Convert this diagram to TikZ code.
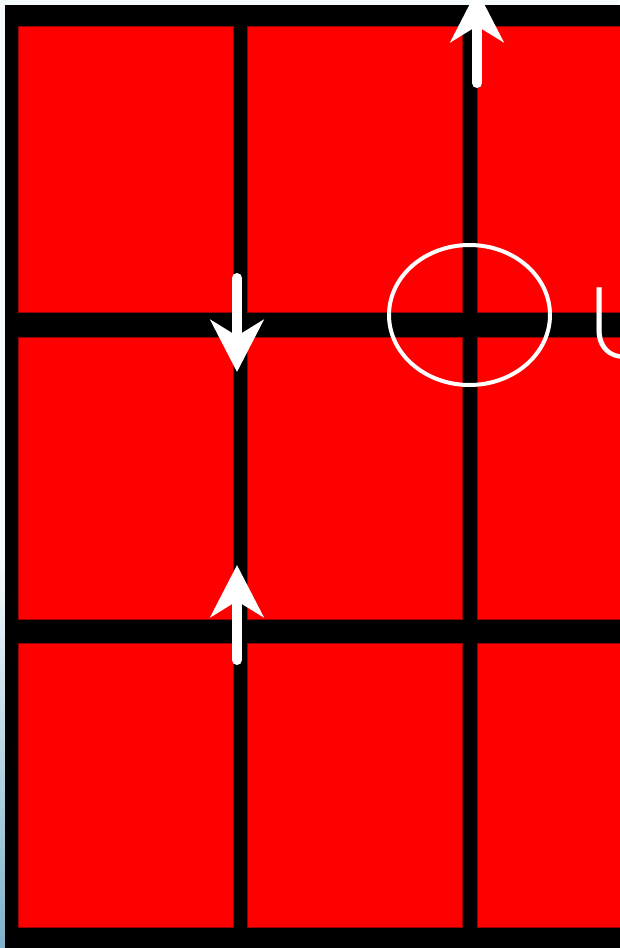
\documentclass[tikz,border=0pt]{standalone}
\usepackage{fontspec}
\newfontfamily\labelfont{Lato Light}
\usetikzlibrary{arrows.meta, shapes.geometric}
\definecolor{pagebg}{HTML}{F4F9FC}
\definecolor{edgeblue}{HTML}{7FB3CB}
\definecolor{cellred}{HTML}{FF0000}

\begin{document}
\begin{tikzpicture}[
    x=1pt, y=-1pt,
    cell/.style={fill=cellred, draw=cellred!60!black, line width=0.6pt},
    flow/.style={draw=white, line width=10pt, line cap=round, -{Stealth[length=52pt, width=53pt, inset=16pt]}},
    ring/.style={draw=white, line width=4pt, ellipse, minimum width=161pt, minimum height=140pt, inner sep=0pt}
]
\useasboundingbox (0,0) rectangle (619,948);
\fill[pagebg] (0,0) rectangle (619,948);
\shade[top color=pagebg, bottom color=edgeblue] (0,560) rectangle (5,948);

% grid
\fill[black] (5,5) rectangle (625,948);
\foreach \ya/\yb in {26/312, 337/619, 643/927}
  \foreach \xa/\xb in {18/233, 247/462, 477/625}
    \draw[cell] (\xa,\ya) rectangle (\xb,\yb);

% arrows along the lines
\coordinate (topfrom) at (477,83);
\coordinate (topto) at (477,-10);
\coordinate (downfrom) at (237,278);
\coordinate (downto) at (237,372);
\coordinate (upfrom) at (237,660);
\coordinate (upto) at (237,565);
\draw[flow] (topfrom) -- (topto);
\draw[flow] (downfrom) -- (downto);
\draw[flow] (upfrom) -- (upto);

\node[ring] (crossing) at (469.5,315) {};
\node[text=white, anchor=base west, inner sep=0pt, font=\labelfont\fontsize{100}{100}\selectfont] (mark) at (587,358) {U};
\end{tikzpicture}
\end{document}
